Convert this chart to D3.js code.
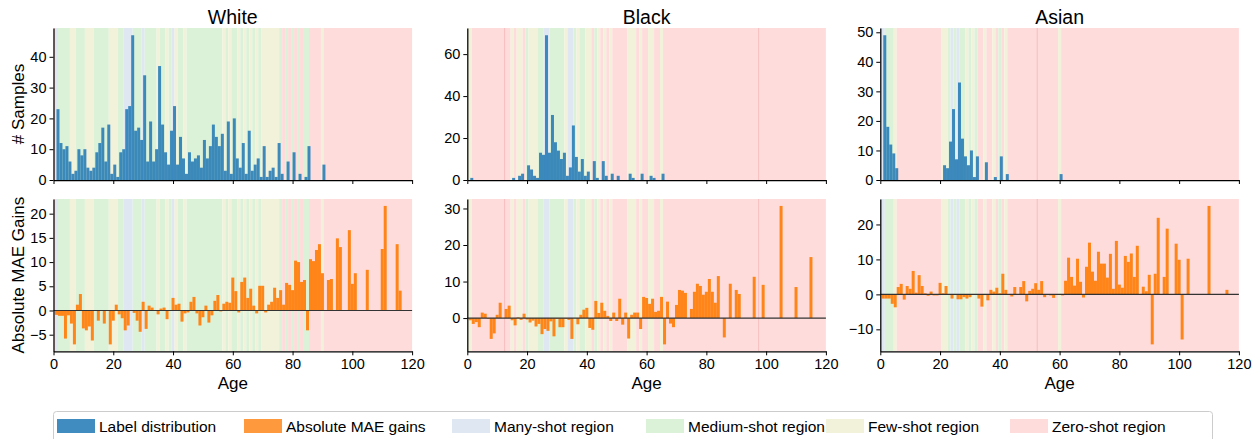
<!DOCTYPE html>
<html>
<head>
<meta charset="utf-8">
<script src="https://cdn.jsdelivr.net/npm/d3@7/dist/d3.min.js"></script>
<style>
  body { margin: 0; background: #fff; }
  text { font-family: "Liberation Sans", Arial, sans-serif; fill: #000; }
</style>
</head>
<body>
<div id="chart"></div>
<script>
// label counts per age (index = age), trailing zeros omitted
const whiteCounts = [0,23,12,10,11,6,2,3,10,8, 10,4,3,4,9,12,17,6,18,2, 5,1,9,10,23,24,47,16,17,13,
  34,6,19,6,10,37,18,9,5,16, 24,5,14,7,2,9,6,7,8,4, 13,7,11,18,14,11,15,3,19,2,
  20,7,4,12,2,16,3,5,7,1, 11,1,3,4,1,12,2,0,6,0, 9,0,2,0,1,11,0,0,0,0, 5];
const blackCounts = [0,1,0,0,0,0,0,0,0,0, 0,0,0,0,0,1,0,2,3,0, 7,5,2,1,13,12,69,13,31,18,
  14,10,13,2,6,26,11,4,10,2, 4,0,9,1,0,9,2,0,3,0, 2,0,0,0,3,1,0,0,3,0, 0,2,1,0,0,3];
const asianCounts = [0,49,18,12,9,4,0,0,0,0, 0,0,0,0,0,0,0,0,0,0, 0,5,4,13,24,7,33,14,8,5,
  10,1,8,0,0,6,0,0,1,0, 8,0,2,0,0,0,0,0,0,0, 0,0,0,0,0,0,0,0,0,0, 2];

// absolute MAE gains per age (index = age)
const whiteGains = [0,-0.9,-1.1,-1.1,-5.8,-1.0,-2.7,-7.0,1.2,3.4, -3.7,-4.1,-3.3,-6.2,0,-2.1,0,-2.7,0.1,-7.0,
  -2.1,1.2,-0.8,-1.6,-4.1,-3.1,0,-0.5,-2.1,-4.4, 1.8,-3.8,1.0,0.6,0,-0.8,0.4,0.6,-1.8,0,
  2.6,1.2,1.4,-2.3,-0.6,-0.4,1.8,2.8,-0.6,-3.1, -1.4,1.0,-2.5,-1.0,2.0,3.2,-0.2,1.4,1.8,1.6,
  6.8,4.0,-0.4,5.9,6.8,2.6,4.5,1.0,-0.6,5.1, 5.1,-0.4,1.2,1.8,4.7,2.6,4.2,1.2,5.7,5.3,
  4.2,10.3,10.0,5.9,6.3,-4.1,10.6,10.2,12.5,13.7, 7.7,0,6.3,6.5,0,14.9,13.1,0,0,16.6,
  5.5,7.7,0,0,0,8.4,0,0,0,0, 12.7,21.6,0,0,0,13.7,4.1];
const blackGains = [0,-0.6,-1.6,-1.1,-2.5,1.5,1.2,-0.2,-5.7,-4.2, 0.9,4.2,0,2.5,3.4,-0.6,-2.0,0.2,-0.5,1.2,
  -0.4,-1.2,-0.7,-2.3,-1.6,-4.4,-3.0,-3.5,-0.9,-5.0, -0.2,-2.5,-2.5,-0.2,-0.5,-5.7,0,-1.7,0.9,2.3,
  2.8,-2.7,-3.2,4.7,1.4,4.2,2.0,0.6,-0.8,1.5, -0.8,5.3,-1.8,1.5,-5.6,0.9,1.5,1.5,-3.0,5.8,
  5.5,3.9,5.3,1.7,2.0,5.8,-7.2,4.5,-1.5,-2.5, 3.6,7.7,7.5,6.9,0,2.5,7.2,9.4,8.8,6.4,
  7.2,10.7,7.2,4.2,11.5,0,-5.3,0,9.4,0, 7.7,6.6,0,0,0,0,11.3,0,0,9.1,
  0,0,0,0,0,30.7,0,0,0,0, 8.5,0,0,0,0,16.7];
const asianGains = [0,-1.2,-1.2,-1.2,-2.7,-3.7,2.1,3.0,-1.5,2.4, 1.6,6.7,0.5,5.5,2.4,0.3,-0.4,0.8,-0.3,-0.3,
  3.3,0.3,2.4,0,-1.2,0,-1.4,-1.4,-0.8,-1.2, -0.8,0,0,-1.2,-3.5,-0.2,-1.7,1.3,0.8,1.9,
  0.3,5.9,1.3,0,-0.6,2.1,0,2.1,3.8,-2.0, 1.0,1.6,3.2,1.3,3.8,-0.8,0,-0.3,-1.0,0,
  0,-0.3,3.9,10.5,5.0,2.5,10.2,3.6,-0.9,7.9, 14.8,6.5,3.9,12.2,8.8,8.8,4.8,11.6,1.6,15.3,
  2.8,1.9,11.0,9.3,11.7,5.0,13.9,0,2.2,0.9, 5.6,-14.3,5.9,21.9,0,5.0,18.8,0,0,14.5,
  9.9,-12.9,0,10.2,0,0,0,0,0,0, 25.3,0,0,0,0,0,1.3];

// shot region per age 0..120: m = many, d = medium, f = few, z = zero
const whiteRegions = 'zmddddffdd' + 'dfffdddddf' + 'ffddmmmddd' + 'mddddfddfd' + 'mfddfddddd' +
  'dddddddfdf' + 'ddfdfdfdfd' + 'ffffffdzdz' + 'dzdzddzzzz' + 'fzzzzzzzzz' + 'zzzzzzzzzzzzzzzzzzzzz';
const blackRegions = 'ffzzzzzzzz' + 'zzzzzfzffz' + 'dfffddmmdd' + 'dddfmmdfdd' + 'ffzdfzfzfz' +
  'zzzzfffzfz' + 'zffzzfzzzz' + 'zzzzzzzzzz' + 'zzzzzzzzzz' + 'zzzzzzzzzz' + 'zzzzzzzzzzzzzzzzzzzzz';
const asianRegions = 'mmdddfzzzz' + 'zzzzzzzzzz' + 'zffdmdmddf' + 'dfdzzfzzfz' + 'dzfzzzzzzz' +
  'zzzzzzzzzz' + 'fzzzzzzzzz' + 'zzzzzzzzzz' + 'zzzzzzzzzz' + 'zzzzzzzzzz' + 'zzzzzzzzzzzzzzzzzzzzz';

// ages where two zero-shot spans overlap and leave a darker seam
const whiteSeams = [];
const blackSeams = [12.5, 97.5];
const asianSeams = [52.5];

const races = ['White', 'Black', 'Asian'];
const countTicks = [[0, 10, 20, 30, 40], [0, 20, 40, 60], [0, 10, 20, 30, 40, 50]];
const gainTicks = [[-5, 0, 5, 10, 15, 20], [0, 10, 20, 30], [-10, 0, 10, 20]];
const ageTicks = [0, 20, 40, 60, 80, 100, 120];

const regionNames = { m: 'Many-shot region', d: 'Medium-shot region', f: 'Few-shot region', z: 'Zero-shot region' };
const regionColors = { m: '#dfe7f3', d: '#dcf2d8', f: '#f2f2da', z: '#ffdcdc' };
const blue = '#1f77b4';
const orange = '#ff7f0e';

// group consecutive ages of the same region into one span
const toRuns = (regions) => {
  const runs = [];
  regions.split('').forEach((r, age) => {
    const last = runs[runs.length - 1];
    if (last && last.r === r) last.end = age;
    else runs.push({ r, start: age, end: age });
  });
  return runs;
};

const drawChart = (id) => {
  const width = 1260;
  const height = 439;
  const panelLeft = [53.5, 467.3, 880.3];
  const panelWidth = 358.6;
  const top = { y0: 28, y1: 180 };
  const bottom = { y0: 199, y1: 351.3 };

  const svg = d3
    .select(`#${id}`)
    .append('svg')
    .attr('width', width)
    .attr('height', height);

  const defs = svg.append('defs');

  const panels = [
    { counts: whiteCounts, gains: whiteGains, regions: whiteRegions, seams: whiteSeams },
    { counts: blackCounts, gains: blackGains, regions: blackRegions, seams: blackSeams },
    { counts: asianCounts, gains: asianGains, regions: asianRegions, seams: asianSeams }
  ];

  panels.forEach((p, i) => {
    const x = d3.scaleLinear().domain([0, 120]).range([panelLeft[i], panelLeft[i] + panelWidth]);

    const yTop = d3
      .scaleLinear()
      .domain([0, d3.max(p.counts) * 1.05])
      .range([top.y1, top.y0]);

    const gMin = d3.min(p.gains);
    const gMax = d3.max(p.gains);
    const pad = (gMax - gMin) * 0.05;
    const yBot = d3
      .scaleLinear()
      .domain([gMin - pad, gMax + pad])
      .range([bottom.y1, bottom.y0]);

    const runs = toRuns(p.regions);

    [['top', top], ['bot', bottom]].forEach(([key, box]) => {
      defs
        .append('clipPath')
        .attr('id', `clip-${i}-${key}`)
        .append('rect')
        .attr('x', x(0))
        .attr('y', box.y0)
        .attr('width', x(120) - x(0))
        .attr('height', box.y1 - box.y0);

      const bg = svg.append('g').attr('clip-path', `url(#clip-${i}-${key})`);

      bg.selectAll('.band')
        .data(runs)
        .enter()
        .append('rect')
        .attr('class', 'band')
        .attr('x', (d) => x(d.start - 0.5))
        .attr('y', box.y0)
        .attr('width', (d) => x(d.end + 0.5) - x(d.start - 0.5))
        .attr('height', box.y1 - box.y0)
        .attr('fill', (d) => regionColors[d.r]);

      bg.selectAll('.seam')
        .data(p.seams)
        .enter()
        .append('line')
        .attr('class', 'seam')
        .attr('x1', (d) => x(d))
        .attr('x2', (d) => x(d))
        .attr('y1', box.y0)
        .attr('y2', box.y1)
        .attr('stroke', '#f6bdbd')
        .attr('stroke-width', 1);
    });

    // label distribution (histogram bins [age, age+1))
    svg
      .append('g')
      .attr('clip-path', `url(#clip-${i}-top)`)
      .selectAll('.count')
      .data(p.counts.map((v, age) => ({ age, v })).filter((d) => d.v > 0))
      .enter()
      .append('rect')
      .attr('class', 'count')
      .attr('x', (d) => x(d.age))
      .attr('y', (d) => yTop(d.v))
      .attr('width', x(1) - x(0))
      .attr('height', (d) => yTop(0) - yTop(d.v))
      .attr('fill', blue)
      .attr('fill-opacity', 0.85);

    // gains (bars centred on age)
    svg
      .append('g')
      .attr('clip-path', `url(#clip-${i}-bot)`)
      .selectAll('.gain')
      .data(p.gains.map((v, age) => ({ age, v })).filter((d) => d.v !== 0))
      .enter()
      .append('rect')
      .attr('class', 'gain')
      .attr('x', (d) => x(d.age - 0.5))
      .attr('y', (d) => yBot(Math.max(0, d.v)))
      .attr('width', x(1) - x(0))
      .attr('height', (d) => Math.abs(yBot(d.v) - yBot(0)))
      .attr('fill', orange)
      .attr('fill-opacity', 0.95);

    svg
      .append('line')
      .attr('x1', x(0))
      .attr('x2', x(120))
      .attr('y1', yBot(0))
      .attr('y2', yBot(0))
      .attr('stroke', '#333')
      .attr('stroke-width', 1.2);

    // axes
    const styleAxis = (g) => {
      g.selectAll('.domain').attr('stroke', '#000').attr('stroke-width', 1.25);
      g.selectAll('.tick line').attr('stroke', '#000').attr('stroke-width', 1);
      g.selectAll('.tick text').attr('font-size', 14.5).attr('fill', '#111');
    };

    svg
      .append('g')
      .attr('transform', `translate(${x(0)},0)`)
      .call(d3.axisLeft(yTop).tickValues(countTicks[i]).tickSize(4).tickPadding(3).tickSizeOuter(0))
      .call(styleAxis);
    svg
      .append('g')
      .attr('transform', `translate(0,${top.y1})`)
      .call(d3.axisBottom(x).tickValues(ageTicks).tickSize(4).tickFormat('').tickSizeOuter(0))
      .call(styleAxis);

    svg
      .append('g')
      .attr('transform', `translate(${x(0)},0)`)
      .call(d3.axisLeft(yBot).tickValues(gainTicks[i]).tickSize(4).tickPadding(3).tickSizeOuter(0))
      .call(styleAxis);
    svg
      .append('g')
      .attr('transform', `translate(0,${bottom.y1})`)
      .call(d3.axisBottom(x).tickValues(ageTicks).tickSize(4).tickPadding(3).tickSizeOuter(0))
      .call(styleAxis);

    svg
      .append('text')
      .attr('x', (x(0) + x(120)) / 2)
      .attr('y', 24)
      .attr('text-anchor', 'middle')
      .attr('font-size', 19.5)
      .text(races[i]);

    svg
      .append('text')
      .attr('x', (x(0) + x(120)) / 2)
      .attr('y', 389)
      .attr('text-anchor', 'middle')
      .attr('font-size', 17)
      .text('Age');
  });

  svg
    .append('text')
    .attr('transform', `translate(24,${(top.y0 + top.y1) / 2}) rotate(-90)`)
    .attr('text-anchor', 'middle')
    .attr('font-size', 17)
    .text('# Samples');

  svg
    .append('text')
    .attr('transform', `translate(24,${(bottom.y0 + bottom.y1) / 2}) rotate(-90)`)
    .attr('text-anchor', 'middle')
    .attr('font-size', 17)
    .text('Absolute MAE Gains');

  // legend
  const legendItems = [
    { label: 'Label distribution', color: blue, opacity: 0.85, x: 57 },
    { label: 'Absolute MAE gains', color: orange, opacity: 0.8, x: 244 },
    { label: regionNames.m, color: regionColors.m, opacity: 1, x: 452 },
    { label: regionNames.d, color: regionColors.d, opacity: 1, x: 646 },
    { label: regionNames.f, color: regionColors.f, opacity: 1, x: 826 },
    { label: regionNames.z, color: regionColors.z, opacity: 1, x: 1010 }
  ];

  const legend = svg.append('g');
  legend
    .append('rect')
    .attr('x', 53.5)
    .attr('y', 411.5)
    .attr('width', 1159)
    .attr('height', 36)
    .attr('rx', 3)
    .attr('fill', '#fff')
    .attr('stroke', '#cccccc');

  const item = legend
    .selectAll('.item')
    .data(legendItems)
    .enter()
    .append('g')
    .attr('class', 'item')
    .attr('transform', (d) => `translate(${d.x},0)`);

  item
    .append('rect')
    .attr('x', 0)
    .attr('y', 419)
    .attr('width', 38)
    .attr('height', 14)
    .attr('fill', (d) => d.color)
    .attr('fill-opacity', (d) => d.opacity);

  item
    .append('text')
    .attr('x', 42)
    .attr('y', 431.5)
    .attr('font-size', 15.5)
    .text((d) => d.label);
};

drawChart('chart');
</script>
</body>
</html>
